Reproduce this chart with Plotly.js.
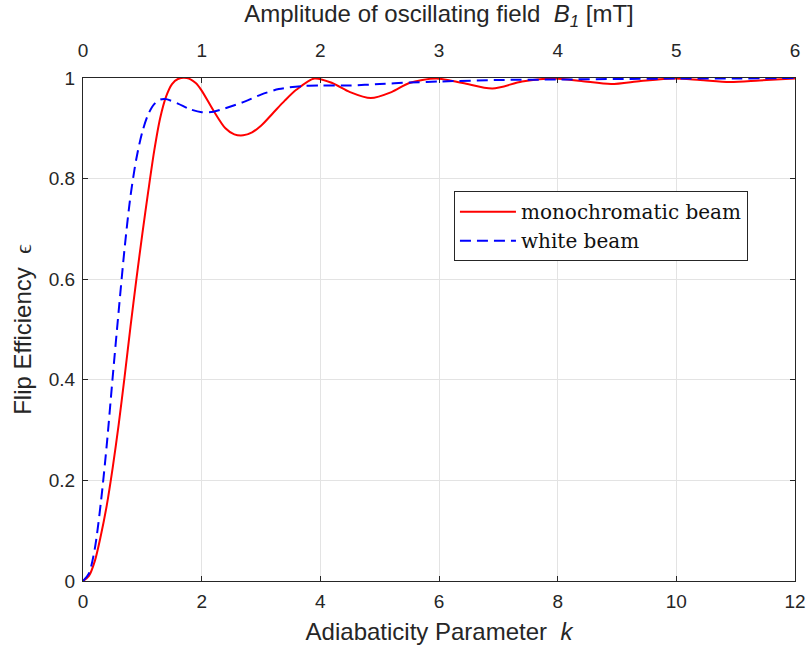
<!DOCTYPE html>
<html>
<head>
<meta charset="utf-8">
<script src="https://cdn.plot.ly/plotly-3.0.1.min.js"></script>
<style>html,body{margin:0;padding:0;background:#fff;}#chart{width:810px;height:657px;}</style>
</head>
<body>
<div id="chart"></div>
<script>
// Adiabaticity parameter k and flip efficiency for the monochromatic beam
var kMono = [0, 0.1, 0.2, 0.3, 0.4, 0.5, 0.6, 0.7, 0.8, 0.9, 1.0, 1.1, 1.2, 1.3, 1.4, 1.5, 1.6, 1.75, 1.9, 2.0, 2.2, 2.4, 2.55, 2.7, 2.85, 3.0, 3.2, 3.4, 3.6, 3.9, 4.2, 4.5, 4.85, 5.2, 5.5, 5.95, 6.4, 6.9, 7.4, 7.95, 8.4, 8.9, 9.4, 9.95, 10.4, 10.9, 11.4, 12];
var effMono = [0, 0.01, 0.04, 0.09, 0.15, 0.225, 0.31, 0.405, 0.505, 0.6, 0.69, 0.775, 0.855, 0.92, 0.963, 0.988, 0.998, 1.0, 0.99, 0.975, 0.935, 0.9, 0.888, 0.886, 0.892, 0.905, 0.93, 0.955, 0.977, 0.999, 0.99, 0.972, 0.96, 0.972, 0.99, 0.999, 0.99, 0.979, 0.993, 0.999, 0.994, 0.988, 0.994, 0.999, 0.996, 0.992, 0.995, 0.999];
// Flip efficiency for the white beam
var kWhite = [0, 0.1, 0.2, 0.3, 0.4, 0.5, 0.6, 0.7, 0.8, 0.9, 1.0, 1.1, 1.2, 1.3, 1.4, 1.6, 1.8, 2.0, 2.2, 2.4, 2.7, 3.0, 3.3, 3.7, 4.0, 4.5, 5.0, 5.5, 6.0, 7.0, 8.0, 9.0, 10.0, 11.0, 12.0];
var effWhite = [0, 0.015, 0.065, 0.155, 0.27, 0.405, 0.535, 0.66, 0.765, 0.84, 0.893, 0.928, 0.948, 0.957, 0.958, 0.949, 0.938, 0.932, 0.933, 0.94, 0.952, 0.967, 0.978, 0.984, 0.985, 0.985, 0.988, 0.991, 0.993, 0.996, 0.997, 0.998, 0.999, 0.999, 1.0];
// Tick labels
var kTicks = [0, 2, 4, 6, 8, 10, 12];
var b1Ticks = [0, 1, 2, 3, 4, 5, 6];
var effTicks = [0, 0.2, 0.4, 0.6, 0.8, 1];
var effTickText = ['0', '0.2', '0.4', '0.6', '0.8', '1'];
var seriesNames = ['monochromatic beam', 'white beam'];

var axisColor = '#262626';
var tickFont = {family: 'Liberation Sans, Arial, sans-serif', size: 19, color: axisColor};
var titleFont = {family: 'Liberation Sans, Arial, sans-serif', size: 24, color: axisColor};

var traces = [
  {x: kMono, y: effMono, name: seriesNames[0], type: 'scatter', mode: 'lines',
   line: {color: '#ff0000', width: 2, shape: 'spline', smoothing: 0.8}},
  {x: kWhite, y: effWhite, name: seriesNames[1], type: 'scatter', mode: 'lines',
   line: {color: '#0000ff', width: 2, dash: '11px,6px', shape: 'spline', smoothing: 0.8}}
];

var layout = {
  width: 810, height: 657,
  paper_bgcolor: '#ffffff', plot_bgcolor: '#ffffff',
  margin: {l: 83, r: 15, t: 78, b: 76, pad: 0},
  showlegend: true,
  legend: {
    x: 0.521, y: 0.775, xanchor: 'left', yanchor: 'top',
    bgcolor: '#ffffff', bordercolor: axisColor, borderwidth: 1,
    font: {family: 'DejaVu Serif, serif', size: 20, color: '#111'},
    itemwidth: 56, tracegroupgap: 0
  },
  xaxis: {
    range: [0, 12], tickvals: kTicks, ticktext: kTicks.map(String),
    ticks: 'inside', ticklen: 5, tickcolor: axisColor, tickwidth: 1,
    ticklabelstandoff: 3,
    showline: true, linecolor: axisColor, linewidth: 1,
    showgrid: true, gridcolor: '#e3e3e3', gridwidth: 1, zeroline: false,
    tickfont: tickFont,
    title: {text: 'Adiabaticity Parameter  <i>k</i>', font: titleFont, standoff: 12}
  },
  xaxis2: {
    range: [0, 6], tickvals: b1Ticks, ticktext: b1Ticks.map(String),
    overlaying: 'x', side: 'top', anchor: 'y',
    ticks: 'inside', ticklen: 5, tickcolor: axisColor, tickwidth: 1,
    ticklabelstandoff: 12,
    showline: true, linecolor: axisColor, linewidth: 1,
    showgrid: false, zeroline: false,
    tickfont: tickFont,
    title: {text: 'Amplitude of oscillating field  <i>B</i><sub><i>1</i></sub> [mT]', font: titleFont, standoff: 12}
  },
  yaxis: {
    range: [0, 1], tickvals: effTicks, ticktext: effTickText,
    ticks: 'inside', ticklen: 5, tickcolor: axisColor, tickwidth: 1,
    ticklabelstandoff: 3,
    showline: true, linecolor: axisColor, linewidth: 1, mirror: 'ticks',
    showgrid: true, gridcolor: '#e3e3e3', gridwidth: 1, zeroline: false,
    tickfont: tickFont,
    title: {text: 'Flip Efficiency  <span style="font-family:Liberation Serif">ϵ</span>', font: titleFont, standoff: 10}
  }
};

// invisible helper trace so the top B1 axis is attached to the plot
traces.push({x: b1Ticks, y: b1Ticks.map(function(){return 0;}), xaxis: 'x2', yaxis: 'y', type: 'scatter', mode: 'lines', line: {width: 0}, opacity: 0, showlegend: false, hoverinfo: 'skip'});

Plotly.newPlot('chart', traces, layout, {displayModeBar: false, staticPlot: true});
</script>
</body>
</html>
